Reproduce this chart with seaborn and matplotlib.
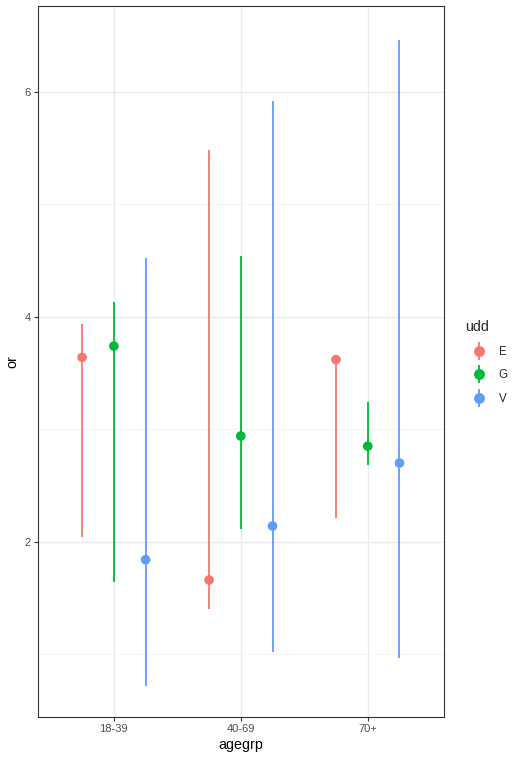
import matplotlib
matplotlib.use("Agg")
import matplotlib.pyplot as plt
import seaborn as sns
import numpy as np
import pandas as pd
from matplotlib.lines import Line2D
from matplotlib.legend_handler import HandlerTuple
from matplotlib.ticker import MultipleLocator

agegrp = ["18-39", "40-69", "70+"]
udd = ["E", "G", "V"]
or_E = [3.64, 1.66, 3.62]
lo_E = [2.04, 1.40, 2.21]
hi_E = [3.94, 5.48, 3.62]
or_G = [3.74, 2.94, 2.85]
lo_G = [1.64, 2.11, 2.68]
hi_G = [4.13, 4.54, 3.24]
or_V = [1.84, 2.14, 2.70]
lo_V = [0.72, 1.02, 0.97]
hi_V = [4.52, 5.92, 6.46]

colors = {"E": "#F8766D", "G": "#00BA38", "V": "#619CFF"}

rows = []
for g, (o, l, h) in zip(udd, [(or_E, lo_E, hi_E), (or_G, lo_G, hi_G), (or_V, lo_V, hi_V)]):
    for i, a in enumerate(agegrp):
        rows.append(dict(agegrp=a, udd=g, OR=o[i], lo=l[i], hi=h[i]))
df = pd.DataFrame(rows)
offs = {"E": -0.25, "G": 0.0, "V": 0.25}
df["xpos"] = df["agegrp"].map({a: i for i, a in enumerate(agegrp)}) + df["udd"].map(offs)

sns.set_theme(style="white")
plt.rcParams["font.family"] = ["Liberation Sans", "DejaVu Sans"]

fig = plt.figure(figsize=(5.21, 7.60), dpi=100)
ax = fig.add_axes([0.0724, 0.057, 0.852 - 0.0724, 0.992 - 0.057])

for g in udd:
    sub = df[df.udd == g]
    ax.vlines(sub["xpos"], sub["lo"], sub["hi"], color=colors[g], lw=1.3, zorder=3)
sns.scatterplot(data=df, x="xpos", y="OR", hue="udd", palette=colors, s=48,
                edgecolor="none", ax=ax, legend=False, zorder=4)

ax.set_xlim(-0.6, 2.6)
ax.set_ylim(0.444, 6.764)
ax.set_xticks(range(len(agegrp)))
ax.set_xticklabels(agegrp)
ax.yaxis.set_major_locator(MultipleLocator(2))
ax.yaxis.set_minor_locator(MultipleLocator(1))
ax.grid(True, which="major", color="#EBEBEB", lw=1.0)
ax.grid(True, which="minor", axis="y", color="#F2F2F2", lw=0.6)
ax.set_axisbelow(True)
for s in ax.spines.values():
    s.set_color("#333333")
    s.set_linewidth(0.8)
ax.tick_params(axis="both", which="major", length=3, width=0.8, color="#333333",
               labelsize=8, labelcolor="#4D4D4D", pad=2, direction="out",
               bottom=True, left=True)
ax.tick_params(axis="y", which="minor", length=0)
ax.set_xlabel("agegrp", fontsize=10.3, color="black", labelpad=3)
ax.set_ylabel("or", fontsize=10.3, color="black", labelpad=4)

handles = []
for g in udd:
    vl = Line2D([], [], color=colors[g], marker="|", markersize=13, markeredgewidth=1.3, linestyle="none")
    dot = Line2D([], [], color=colors[g], marker="o", markersize=6.8, linestyle="none")
    handles.append((vl, dot))
fig.legend(handles, udd, handler_map={tuple: HandlerTuple(ndivide=1, pad=0)},
           title="udd", loc="center left", bbox_to_anchor=(0.872, 0.523),
           frameon=False, fontsize=8.3, title_fontsize=10.3, handlelength=2.4,
           handletextpad=0.55, labelspacing=1.0, alignment="left")

fig.savefig("out.png", dpi=100)
